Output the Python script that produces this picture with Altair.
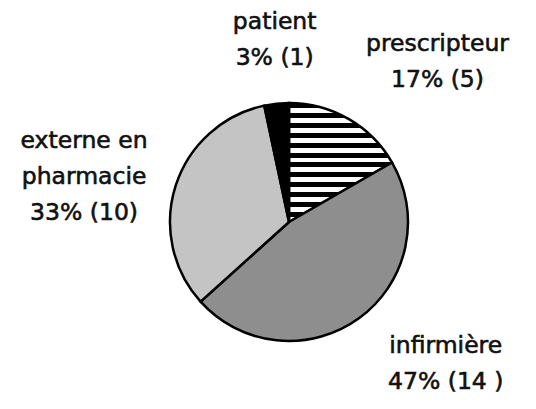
import altair as alt
import pandas as pd

categories = ["prescripteur", "infirmière", "externe en pharmacie", "patient"]
counts = [5, 14, 10, 1]
labels = ["prescripteur\n17% (5)", "infirmière\n47% (14 )", "externe en\npharmacie\n33% (10)", "patient\n3% (1)"]
fills = ["#ffffff", "#8e8e8e", "#c4c4c4", "#000000"]

df = pd.DataFrame({
    "cat": categories,
    "n": counts,
    "label": labels,
    "idx": list(range(len(categories))),
})

# horizontal stripes for the "prescripteur" slice
n_stripes = 12
stops = []
for i in range(n_stripes):
    a = i / n_stripes
    b = (i + 0.5) / n_stripes
    c = (i + 1) / n_stripes
    stops += [
        {"offset": a, "color": "black"},
        {"offset": b, "color": "black"},
        {"offset": b, "color": "white"},
        {"offset": c, "color": "white"},
    ]
stripes = {"gradient": "linear", "x1": 0, "y1": 0, "x2": 0, "y2": 1, "stops": stops}

CX, CY = 281, 214

base = alt.Chart(df).encode(
    theta=alt.Theta("n:Q", stack=True),
    order=alt.Order("idx:Q"),
    x=alt.value(CX),
    y=alt.value(CY),
)

arcs = base.mark_arc(outerRadius=119, stroke="black", strokeWidth=2.5).encode(
    fill=alt.condition(
        alt.datum.cat == "prescripteur",
        alt.value(stripes),
        alt.Fill("cat:N", scale=alt.Scale(domain=categories, range=fills), legend=None),
    )
)

offsets = {
    "patient": (5, -16),
    "prescripteur": (56, -18),
    "infirmière": (48, -26),
    "externe en pharmacie": (-29, -24),
}

layers = [arcs]
for cat, (dx, dy) in offsets.items():
    t = base.mark_text(
        radius=185, dx=dx, dy=dy, font="DejaVu Sans", fontSize=23.5,
        stroke="#111111", strokeWidth=0.6,
        lineBreak="\n", lineHeight=36, align="center", baseline="middle", color="#111111",
    ).encode(
        text=alt.condition(alt.datum.cat == cat, alt.Text("label:N"), alt.value(""))
    )
    layers.append(t)

chart = alt.layer(*layers).properties(
    width=516, height=388, padding=0, autosize=alt.AutoSizeParams(type="none")
).configure_view(stroke=None, strokeWidth=0)

chart.save("out.html", embed_options={"renderer": "svg", "actions": False})
